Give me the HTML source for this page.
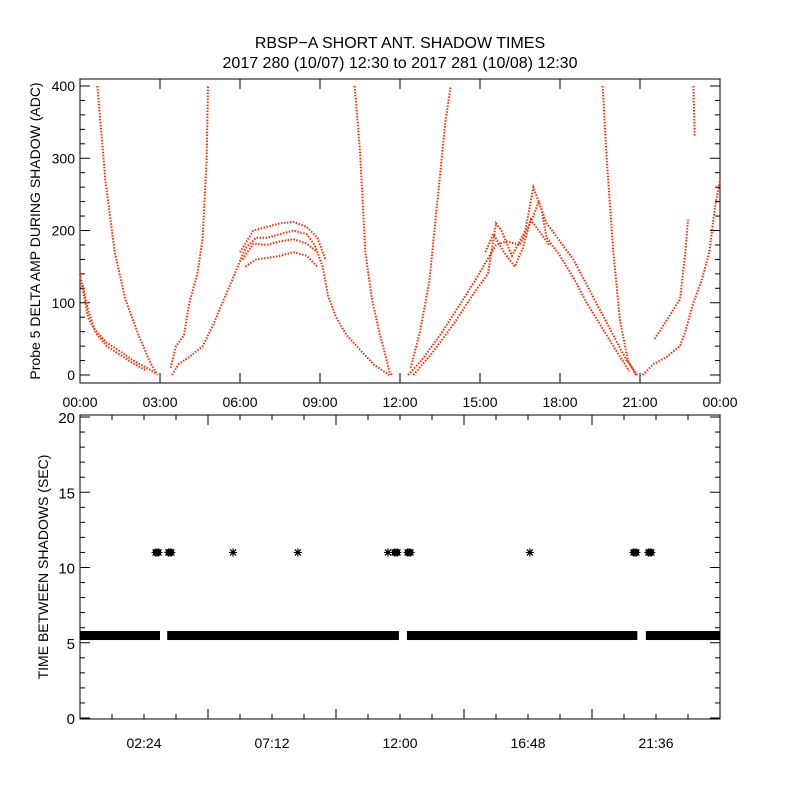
<!DOCTYPE html>
<html><head><meta charset="utf-8"><style>
body{margin:0;background:#fff}
svg{display:block;font-family:"Liberation Sans",sans-serif}
</style></head><body>
<svg id="c" width="800" height="800" viewBox="0 0 800 800">
<rect width="800" height="800" fill="#fff"/>
<text x="400" y="48" text-anchor="middle" font-size="16">RBSP−A SHORT ANT. SHADOW TIMES</text>
<text x="400" y="68" text-anchor="middle" font-size="16">2017 280 (10/07) 12:30 to 2017 281 (10/08) 12:30</text>
<g id="topPanel"></g>
<g id="botPanel"></g>
</svg>
<script>
const NS="http://www.w3.org/2000/svg";
// ---- top panel data (hours, ADC) ----
const topTicks=["00:00","03:00","06:00","09:00","12:00","15:00","18:00","21:00","00:00"];
const topYTicks=[0,100,200,300,400];
const branchA=[[0.65,400],[0.95,270],[1.3,170],[1.7,105],[2.2,55],[2.6,20],[2.9,0]];
const branchB=[[0,140],[0.15,110],[0.3,80],[0.5,65],[1.0,45],[1.5,33],[2.0,20],[2.5,10],[2.85,2]];
const branchB2=[[0.1,125],[0.3,90],[0.6,58],[1.0,40],[1.5,28],[2.0,16],[2.5,6]];
const branchC=[[3.4,10],[3.6,40],[3.9,55],[4.1,100],[4.4,140],[4.6,190],[4.75,300],[4.8,400]];
const branchD=[[3.45,0],[3.7,15],[4.1,25],[4.6,40],[5.0,70],[5.4,105],[5.8,140],[6.2,175],[6.6,190],[7,190],[7.5,195],[8,200],[8.5,195],[8.8,180],[9.1,150],[9.3,110],[9.6,80],[10,55],[10.5,35],[11,15],[11.4,5],[11.6,0]];
const branchDup=[[6.0,170],[6.5,200],[7,205],[7.5,210],[8,212],[8.5,205],[8.9,190],[9.2,160]];
const branchDmid=[[6.1,160],[6.5,182],[7,180],[7.5,185],[8,188],[8.5,182],[8.9,170]];
const branchDlo=[[6.2,150],[6.6,160],[7,162],[7.5,165],[8,170],[8.5,165],[8.9,150]];
const branchE=[[10.3,400],[10.5,310],[10.7,170],[10.95,105],[11.25,55],[11.45,28],[11.6,5],[11.7,0]];
const branchF=[[12.4,10],[12.75,60],[13.1,130],[13.4,240],[13.7,350],[13.9,400]];
const branchG=[[12.3,0],[12.8,20],[13.5,55],[14.2,95],[14.8,130],[15.2,155],[15.6,180],[16,185],[16.5,180],[17,220],[17.2,240],[17.5,210],[18,185],[18.5,160],[19,125],[19.5,90],[20,55],[20.5,20],[20.9,0]];
const branchG2=[[12.5,0],[13.2,30],[14,70],[14.8,115],[15.3,140],[15.6,210],[15.8,200],[16.2,165],[16.7,200],[17,260],[17.3,230],[17.5,190],[18,165],[18.5,135],[19,100],[19.5,70],[20,40],[20.6,5]];
const branchG3=[[15.2,170],[15.5,195],[15.9,170],[16.3,150],[16.6,175],[16.9,215],[17.2,200],[17.6,180]];
const branchH=[[19.6,400],[19.75,300],[20,170],[20.25,75],[20.55,20],[20.85,0]];
const branchI=[[21.55,50],[21.9,70],[22.5,105],[22.7,170],[22.8,215]];
const branchI2=[[23.0,400],[23.05,330]];
const branchJ=[[21.1,0],[21.5,15],[22,25],[22.5,40],[22.7,60],[23,100],[23.3,130],[23.6,170],[23.8,230],[24,270]];
const branches=[branchA,branchB,branchB2,branchC,branchD,branchDup,branchDmid,branchDlo,branchE,branchF,branchG,branchG2,branchG3,branchH,branchI,branchI2,branchJ];
// ---- bottom panel data ----
const botTicks=["02:24","07:12","12:00","16:48","21:36"];
const botYTicks=[0,5,10,15,20];
const bandIntervals=[[0,3.0],[3.27,11.96],[12.26,20.9],[21.22,24]];
const bandValue=[5.48];
const outlierTimes=[2.89,3.37,5.74,8.17,11.55,11.85,12.34,16.87,20.81,21.37];
const outlierValues=[11,11,11,11,11,11,11,11,11,11];
const outlierBold=[1,1,0,0,0,1,1,0,1,1];

const L=80,R=720;
const tx=h=>L+(R-L)*h/24;
const ty=v=>375-v*0.7225;
const by=v=>718-v*15.05;
function el(p,tag,a){const e=document.createElementNS(NS,tag);for(const k in a)e.setAttribute(k,a[k]);p.appendChild(e);return e;}
const gTop=document.getElementById('topPanel'),gBot=document.getElementById('botPanel');
let f=el(gTop,'rect',{x:80,y:79,width:640,height:304,fill:'none',stroke:'#000','stroke-width':1});


f=el(gBot,'rect',{x:80,y:415,width:640,height:304,fill:'none',stroke:'#000','stroke-width':1});


for(let i=0;i<=20;i++){const y=ty(i*20);if(y<79)continue;const len=i%5==0?10:5;
 el(gTop,'line',{x1:80,x2:80+len,y1:y,y2:y,stroke:'#000'});el(gTop,'line',{x1:720,x2:720-len,y1:y,y2:y,stroke:'#000'});}
topYTicks.forEach(v=>{const t=el(gTop,'text',{x:75,y:ty(v)+5,'text-anchor':'end','font-size':14});t.textContent=v;
 
 });
topTicks.forEach((s,i)=>{const x=tx(i*3);el(gTop,'line',{x1:x,x2:x,y1:383,y2:373,stroke:'#000'});el(gTop,'line',{x1:x,x2:x,y1:79,y2:89,stroke:'#000'});
 const t=el(gTop,'text',{x:x,y:407,'text-anchor':'middle','font-size':14});t.textContent=s;
 
 });
let yt=el(gTop,'text',{x:0,y:0,'text-anchor':'middle','font-size':14,transform:'translate(40,231) rotate(-90)'});
yt.textContent='Probe 5 DELTA AMP DURING SHADOW (ADC)';


branches.forEach((b,i)=>{
 const p=el(gTop,'polyline',{points:b.map(d=>tx(d[0])+','+ty(Math.min(d[1],400))).join(' '),fill:'none',stroke:'#ff2a00','stroke-width':2,'stroke-dasharray':'1.5 1.5'});
 
 
});
for(let i=0;i<=20;i++){const y=by(i);const len=i%5==0?10:5;
 el(gBot,'line',{x1:80,x2:80+len,y1:y,y2:y,stroke:'#000'});el(gBot,'line',{x1:720,x2:720-len,y1:y,y2:y,stroke:'#000'});}
botYTicks.forEach(v=>{const t=el(gBot,'text',{x:75,y:by(v)+6,'text-anchor':'end','font-size':15});t.textContent=v;
 
 });
for(let i=1;i<20;i++){const x=tx(i*1.2);const len=i%4==0?10:5;
 el(gBot,'line',{x1:x,x2:x,y1:719,y2:719-len,stroke:'#000'});el(gBot,'line',{x1:x,x2:x,y1:415,y2:415+len,stroke:'#000'});}
botTicks.forEach((s,i)=>{const t=el(gBot,'text',{x:tx((i+0.5)*4.8),y:748,'text-anchor':'middle','font-size':14});t.textContent=s;
 
 });
yt=el(gBot,'text',{x:0,y:0,'text-anchor':'middle','font-size':14,transform:'translate(48,567) rotate(-90)'});
yt.textContent='TIME BETWEEN SHADOWS (SEC)';


bandIntervals.forEach(iv=>{
 const r=el(gBot,'rect',{x:tx(iv[0]),y:by(bandValue[0])-4.5,width:tx(iv[1])-tx(iv[0]),height:9,fill:'#000'});
 
 
});
function star(g,x,y){
 const d=`M${x-4},${y}H${x+4}M${x},${y-4}V${y+4}M${x-3},${y-3}L${x+3},${y+3}M${x-3},${y+3}L${x+3},${y-3}`;
 return el(g,'path',{d:d,stroke:'#000','stroke-width':1.2,fill:'none'});
}
outlierTimes.forEach((h,i)=>{
 const x=tx(h),y=by(outlierValues[i]);
 const g=el(gBot,'g',{});
 
 
 const offs=outlierBold[i]?[-1.5,0,1.5]:[0];
 offs.forEach(o=>{star(g,x+o,y);});
 if(outlierBold[i]){el(g,'rect',{x:x-4,y:y-3,width:8,height:6,fill:'#000'});}
});
</script>
</body></html>
